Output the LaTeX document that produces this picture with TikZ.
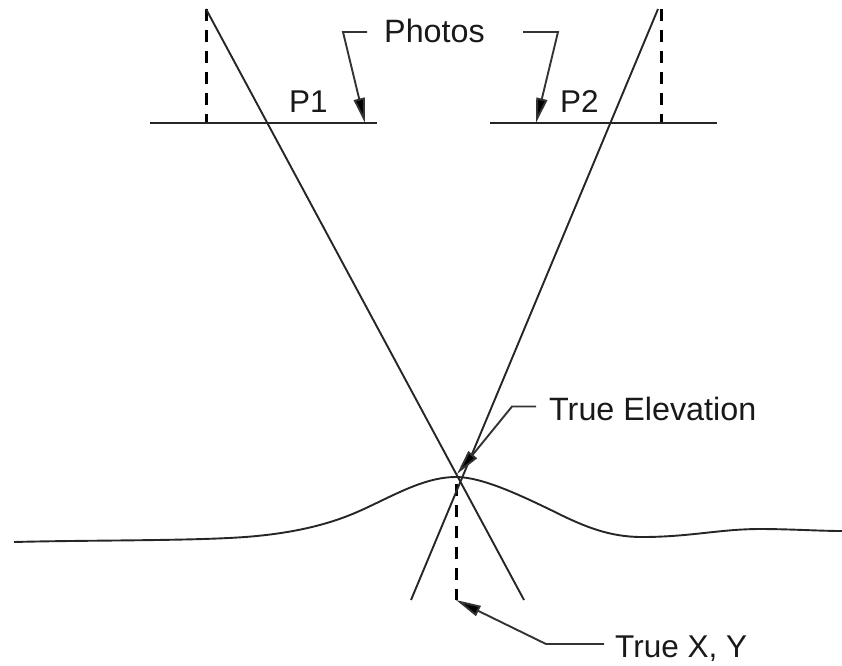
\documentclass[tikz,border=0pt]{standalone}
\usepackage{fontspec}
\setmainfont{Liberation Sans}
\usetikzlibrary{arrows.meta}
\tikzset{
  solidline/.style={line width=1.9pt,draw=black!85},
  dashline/.style={line width=3pt,draw=black,dash pattern=on 11.5pt off 9.5pt},
  leader/.style={line width=1.9pt,draw=black!80,-{Stealth[length=25pt,width=11pt,inset=0pt,fill=black]}},
  lab/.style={inner sep=0pt,font=\fontsize{31.5pt}{32pt}\selectfont,text=black!90,anchor=base west},
  labw/.style={lab,font=\fontsize{32.3pt}{33pt}\selectfont}
}
\begin{document}
\begin{tikzpicture}[x=1pt,y=-1pt]
\useasboundingbox (0,0) rectangle (842,665);
\coordinate (L1) at (206,9);
\coordinate (L2) at (524,600);
\coordinate (R1) at (658,9);
\coordinate (R2) at (411,600);
\coordinate (DL1) at (206,9);
\coordinate (DL2) at (206,123);
\coordinate (DR1) at (661,9);
\coordinate (DR2) at (661,123);
\coordinate (DC1) at (456,484);
\coordinate (DC2) at (456,600);
\coordinate (P1a) at (150,123);
\coordinate (P1b) at (377,123);
\coordinate (P2a) at (490,123);
\coordinate (P2b) at (717,123);
\coordinate (A1) at (367,32);
\coordinate (A2) at (343,32);
\coordinate (A3) at (365,123);
\coordinate (B1) at (523,32);
\coordinate (B2) at (558,32);
\coordinate (B3) at (536,123);
\coordinate (C1) at (536,406.5);
\coordinate (C2) at (512,406.5);
\coordinate (C3) at (457,474);
\coordinate (D1) at (604,644);
\coordinate (D2) at (546,644);
\coordinate (D3) at (456,600);
\node[labw] (photos) at (384,42) {Photos};
\node[lab] (p1) at (289,112) {P1};
\node[lab] (p2) at (560,112) {P2};
\node[labw] (elev) at (549,420) {True Elevation};
\node[lab] (xy) at (615,657.5) {True X, Y};
\draw[dashline] (DL1) -- (DL2);
\draw[dashline] (DR1) -- (DR2);
\draw[dashline] (DC1) -- (DC2);
\draw[solidline] (L1) -- (L2);
\draw[solidline] (R1) -- (R2);
\draw[solidline] (P1a) -- (P1b);
\draw[solidline] (P2a) -- (P2b);
\draw[leader] (A1) -- (A2) -- (A3);
\draw[leader] (B1) -- (B2) -- (B3);
\draw[leader] (C1) -- (C2) -- (C3);
\draw[leader] (D1) -- (D2) -- (D3);
\draw[solidline] (14,542) .. controls (90,540) and (190,541) .. (245,537)
  .. controls (285,534) and (320,527) .. (350,515)
  .. controls (385,501) and (420,477) .. (456,477)
  .. controls (482,477) and (520,495) .. (555,512)
  .. controls (585,527) and (610,537) .. (642,537)
  .. controls (690,537) and (720,529) .. (760,529)
  .. controls (790,529) and (820,531) .. (842,531);
\end{tikzpicture}
\end{document}
